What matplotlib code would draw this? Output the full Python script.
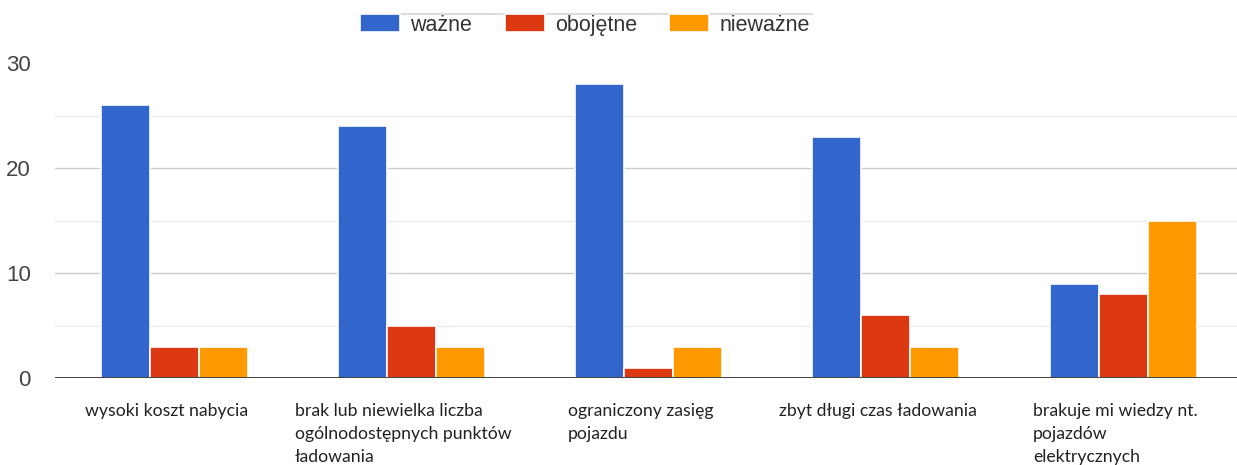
import matplotlib.pyplot as plt
import numpy as np
from matplotlib.lines import Line2D
from matplotlib.transforms import ScaledTranslation

categories = [
    "wysoki koszt nabycia",
    "brak lub niewielka liczba\nogólnodostępnych punktów\nładowania",
    "ograniczony zasięg\npojazdu",
    "zbyt długi czas ładowania",
    "brakuje mi wiedzy nt.\npojazdów\nelektrycznych",
]
series_names = ["ważne", "obojętne", "nieważne"]
wazne = [26, 24, 28, 23, 9]
obojetne = [3, 5, 1, 6, 8]
niewazne = [3, 3, 3, 3, 15]
colors = ["#3366CC", "#DC3912", "#FF9900"]

W, H = 1237, 465
fig = plt.figure(figsize=(W / 100, H / 100), dpi=100)
ax = fig.add_axes([55 / W, 1 - 378 / H, (W - 55) / W, 315 / H])

x = np.arange(len(categories))
step = 0.2065
for i, (vals, col, name) in enumerate(zip([wazne, obojetne, niewazne], colors, series_names)):
    ax.bar(x + (i - 1) * step, vals, width=step, color=col, edgecolor="white",
           linewidth=1.2, label=name, zorder=3)

ax.set_xlim(-0.502, 4.48)
ax.set_ylim(0, 30)
ax.set_yticks([0, 10, 20, 30])
ax.set_yticks([5, 15, 25], minor=True)
ax.grid(axis="y", which="major", color="#cccccc", lw=1, zorder=0)
ax.grid(axis="y", which="minor", color="#ebebeb", lw=1, zorder=0)
ax.yaxis.get_gridlines()[-1].set_visible(False)
ax.axhline(0, color="#333333", lw=1.3, zorder=4)
for s in ax.spines.values():
    s.set_visible(False)
ax.tick_params(axis="y", which="both", length=0, pad=17.5, labelsize=16, labelcolor="#444444")
for t in ax.get_yticklabels():
    t.set_family("Liberation Sans")

ax.set_xticks(x)
ax.set_xticklabels(categories, multialignment="left", fontsize=12.7,
                   family="Lato", color="#222222", linespacing=1.52, va="top")
ax.tick_params(axis="x", length=0, pad=18)
shift = ScaledTranslation(-8 / 100, 0, fig.dpi_scale_trans)
for t in ax.get_xticklabels():
    t.set_transform(t.get_transform() + shift)

leg = fig.legend(loc="center", bbox_to_anchor=(585 / W, 1 - 25 / H), ncol=3, frameon=False,
                 prop={"family": "Liberation Sans", "size": 15.5}, handlelength=1.86,
                 handleheight=0.88, columnspacing=1.5, handletextpad=0.47,
                 borderpad=0, borderaxespad=0)
for t in leg.get_texts():
    t.set_color("#333333")
fig.add_artist(Line2D([360 / W, 812 / W], [1 - 14 / H, 1 - 14 / H],
                      transform=fig.transFigure, color="#dddddd", lw=1.5))

fig.savefig("out.png", dpi=100)
